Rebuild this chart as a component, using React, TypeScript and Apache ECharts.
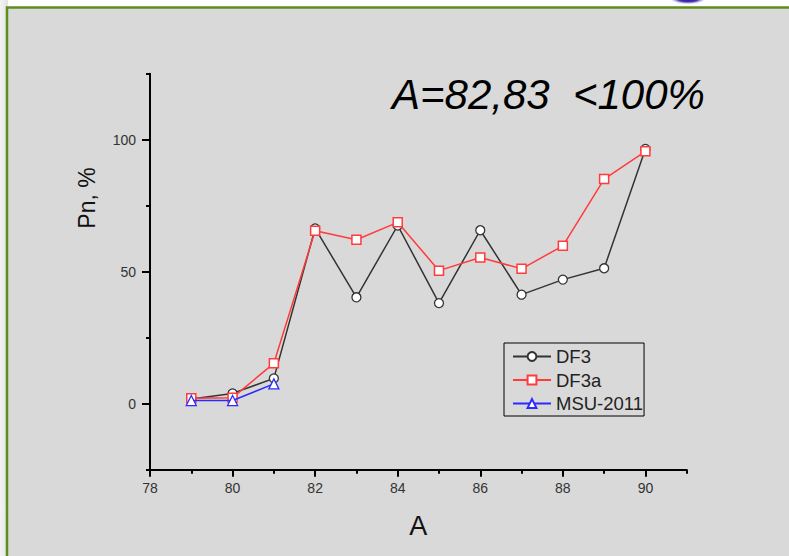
import React, { useEffect, useRef } from "react";
import * as echarts from "echarts";

const xValues = [79, 80, 81, 82, 83, 84, 85, 86, 87, 88, 89, 90];
const df3 = [1.8, 3.9, 9.6, 66.4, 40.3, 67.5, 38.1, 65.7, 41.3, 47.0, 51.3, 96.5];
const df3a = [2.1, 2.3, 15.3, 65.5, 62.1, 68.7, 50.4, 55.4, 51.1, 59.8, 85.1, 95.6];
const msuX = [79, 80, 81];
const msu = [1.2, 1.2, 7.5];

const xMajorTicks = [78, 80, 82, 84, 86, 88, 90];
const xMinorTicks = [79, 81, 83, 85, 87, 89, 91];
const yMajorTicks = [0, 50, 100];
const yMinorTicks = [-25, 25, 75, 125];

const seriesNames = ["DF3", "DF3a", "MSU-2011"];
const annotation = "A=82,83  <100%";

export default function App() {
  const ref = useRef<HTMLDivElement>(null);
  useEffect(() => {
    if (!ref.current) return;
    const chart = echarts.init(ref.current, undefined, { renderer: "svg" });
    const font = "'Liberation Sans', Arial, sans-serif";
    const axisBase = {
      type: "value" as const,
      splitLine: { show: false },
    };
    chart.setOption({
      animation: false,
      backgroundColor: "#ffffff",
      textStyle: { fontFamily: font },
      graphic: [
        {
          type: "rect",
          z: -20,
          silent: true,
          shape: { x: 0, y: 0, width: 8, height: 556 },
          style: {
            fill: new echarts.graphic.LinearGradient(0, 0, 1, 0, [
              { offset: 0, color: "#f4f4f4" },
              { offset: 1, color: "#e2e2e2" },
            ]),
          },
        },
        {
          type: "rect",
          z: -10,
          silent: true,
          shape: { x: 7, y: 7.5, width: 800, height: 560 },
          style: { fill: "#d9d9d9", stroke: "#5f8d1d", lineWidth: 2.5 },
        },
        {
          type: "ellipse",
          z: -5,
          silent: true,
          shape: { cx: 688, cy: -1, rx: 17, ry: 5 },
          style: {
            fill: new echarts.graphic.RadialGradient(0.5, 0.5, 0.5, [
              { offset: 0, color: "#1a0a8a" },
              { offset: 0.6, color: "#4a3ab0" },
              { offset: 1, color: "rgba(200,200,240,0.3)" },
            ]),
          },
        },
        {
          type: "text",
          z: 10,
          x: 392,
          y: 94,
          style: {
            text: annotation,
            font: "italic 42px 'Liberation Sans', Arial, sans-serif",
            fill: "#000",
            verticalAlign: "middle",
            align: "left",
          },
        },
        {
          type: "text",
          z: 10,
          x: 87,
          y: 198,
          rotation: Math.PI / 2,
          style: {
            text: "Pn, %",
            font: "23px 'Liberation Sans', Arial, sans-serif",
            fill: "#111",
            align: "center",
            verticalAlign: "middle",
          },
        },
      ],
      grid: { left: 150, right: 102.3, top: 73.7, bottom: 86.3, containLabel: false },
      legend: {
        orient: "vertical",
        left: 504,
        top: 343,
        data: seriesNames,
        itemWidth: 38,
        itemHeight: 11,
        itemGap: 4.5,
        padding: [4, 1, 3, 8],
        borderColor: "#000",
        borderWidth: 1,
        borderRadius: 0,
        backgroundColor: "transparent",
        textStyle: { fontSize: 18.5, lineHeight: 18.5, color: "#222", fontFamily: font },
      },
      xAxis: [
        {
          ...axisBase,
          min: 78,
          max: 91,
          interval: 1,
          name: "A",
          nameLocation: "middle",
          nameGap: 43,
          nameTextStyle: { fontSize: 27, color: "#111", fontFamily: font },
          axisLine: { show: true, onZero: false, lineStyle: { color: "#000", width: 2 } },
          axisTick: { show: true, customValues: xMajorTicks, length: 7, lineStyle: { color: "#000", width: 2 } },
          axisLabel: { customValues: xMajorTicks, margin: 11, fontSize: 14, color: "#333", fontFamily: font },
        },
        {
          ...axisBase,
          min: 78,
          max: 91,
          interval: 1,
          position: "bottom",
          axisLine: { show: false, onZero: false },
          axisTick: { show: true, customValues: xMinorTicks, length: 4, lineStyle: { color: "#000", width: 2 } },
          axisLabel: { show: false },
        },
      ],
      yAxis: [
        {
          ...axisBase,
          min: -25,
          max: 125,
          interval: 25,
          position: "left",
          axisLine: { show: true, onZero: false, lineStyle: { color: "#000", width: 2 } },
          axisTick: { show: true, customValues: yMajorTicks, length: 8, lineStyle: { color: "#000", width: 2 } },
          axisLabel: { customValues: yMajorTicks, margin: 14, fontSize: 14, color: "#333", fontFamily: font },
        },
        {
          ...axisBase,
          min: -25,
          max: 125,
          interval: 25,
          position: "left",
          offset: 0,
          axisLine: { show: false, onZero: false },
          axisTick: { show: true, customValues: yMinorTicks, length: 4, lineStyle: { color: "#000", width: 2 } },
          axisLabel: { show: false },
        },
      ],
      series: [
        {
          name: seriesNames[0],
          type: "line",
          data: xValues.map((x, i) => [x, df3[i]]),
          symbol: "circle",
          symbolSize: 9,
          lineStyle: { color: "#333", width: 1.5 },
          itemStyle: { color: "#fff", borderColor: "#333", borderWidth: 1.3 },
          z: 2,
        },
        {
          name: seriesNames[1],
          type: "line",
          data: xValues.map((x, i) => [x, df3a[i]]),
          symbol: "rect",
          symbolSize: 9,
          lineStyle: { color: "#ff3b3b", width: 1.5 },
          itemStyle: { color: "#fff", borderColor: "#ff3b3b", borderWidth: 1.5 },
          z: 3,
        },
        {
          name: seriesNames[2],
          type: "line",
          data: msuX.map((x, i) => [x, msu[i]]),
          symbol: "triangle",
          symbolSize: 10,
          lineStyle: { color: "#2b2bff", width: 1.5 },
          itemStyle: { color: "#fff", borderColor: "#2b2bff", borderWidth: 1.3 },
          z: 4,
        },
      ],
    });
    return () => chart.dispose();
  }, []);
  return (
    <div
      ref={ref}
      style={{ position: "fixed", left: 0, top: 0, width: 789, height: 556 }}
    />
  );
}
